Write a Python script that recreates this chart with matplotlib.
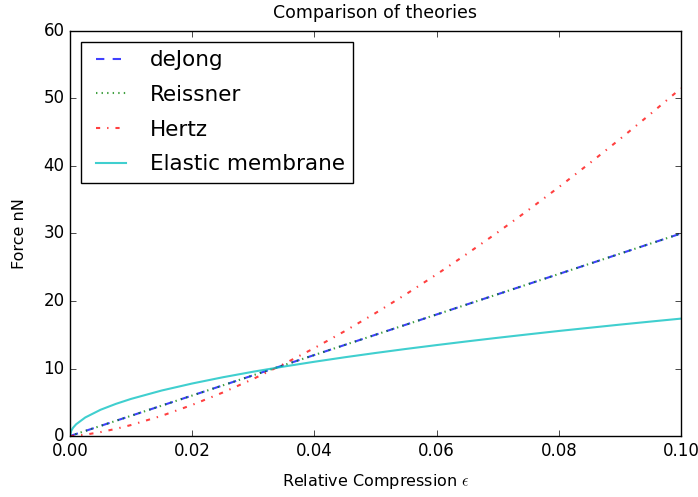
import matplotlib
matplotlib.use("Agg")
import matplotlib.pyplot as plt

# Relative compression values and forces (nN)
strain = [0.0, 0.0002, 0.0005, 0.001, 0.0025, 0.005, 0.0075, 0.01, 0.015, 0.02,
          0.025, 0.03, 0.035, 0.04, 0.045, 0.05, 0.055, 0.06, 0.065, 0.07,
          0.075, 0.08, 0.085, 0.09, 0.095, 0.1]
dejong = [0.0, 0.06, 0.15, 0.3, 0.75, 1.5, 2.25, 3.0, 4.5, 6.0,
          7.5, 9.0, 10.5, 12.0, 13.5, 15.0, 16.5, 18.0, 19.5, 21.0,
          22.5, 24.0, 25.5, 27.0, 28.5, 30.0]
reissner = [0.0, 0.06, 0.15, 0.3, 0.75, 1.5, 2.25, 3.0, 4.5, 6.0,
            7.5, 9.0, 10.5, 12.0, 13.5, 15.0, 16.5, 18.0, 19.5, 21.0,
            22.5, 24.0, 25.5, 27.0, 28.5, 30.0]
hertz = [0.0, 0.005, 0.02, 0.05, 0.2, 0.58, 1.06, 1.63, 2.99, 4.61,
         6.44, 8.46, 10.67, 13.03, 15.55, 18.21, 21.01, 23.94, 27.0, 30.17,
         33.46, 36.86, 40.37, 43.98, 47.7, 51.51]
membrane = [0.0, 0.78, 1.23, 1.74, 2.75, 3.89, 4.76, 5.5, 6.74, 7.78,
            8.7, 9.53, 10.29, 11.0, 11.67, 12.3, 12.9, 13.47, 14.02, 14.55,
            15.06, 15.56, 16.03, 16.5, 16.95, 17.39]

plt.style.use("classic")
fig = plt.figure(figsize=(6.98, 4.97), dpi=100, facecolor="white")
ax = fig.add_axes([0.1003, 0.1227, 0.8753, 0.815])

ax.plot(strain, dejong, "b--", alpha=0.75, linewidth=1.5, label="deJong")
ax.plot(strain, reissner, "g:", alpha=0.75, linewidth=1.5, label="Reissner")
ax.plot(strain, hertz, "r-.", alpha=0.75, linewidth=1.5, label="Hertz")
ax.plot(strain, membrane, "c-", alpha=0.75, linewidth=1.5, label="Elastic membrane")

ax.set_xlim(0, 0.1)
ax.set_ylim(0, 60)
ax.set_title("Comparison of theories", fontsize=12.5, pad=9)
ax.set_xlabel(r"Relative Compression $\epsilon$", fontsize=11.5, labelpad=9)
ax.set_ylabel("Force nN", fontsize=11.5, labelpad=12)
ax.tick_params(labelsize=12)
ax.legend(loc="upper left", fontsize=15.5, labelspacing=0.68)

fig.savefig("out.png", dpi=100, facecolor="white")
